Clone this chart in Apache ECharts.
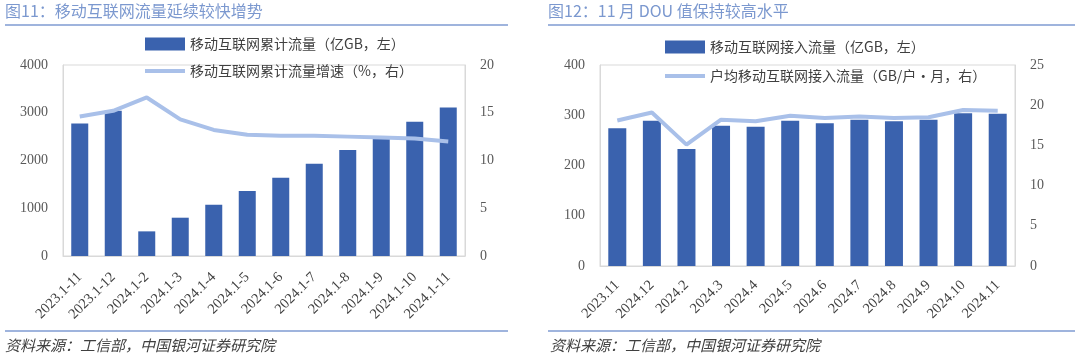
<!DOCTYPE html>
<html><head><meta charset="utf-8">
<script src="https://cdn.jsdelivr.net/npm/echarts@6/dist/echarts.min.js"></script>
<style>html,body{margin:0;padding:0;background:#fff}#c{width:1080px;height:362px}</style>
</head><body><div id="c"></div>
<script>
const leftTitle = '图11：移动互联网流量延续较快增势';
const rightTitle = '图12：11 月 DOU 值保持较高水平';
const sourceText = '资料来源：工信部，中国银河证券研究院';

const leftCategories = ['2023.1-11','2023.1-12','2024.1-2','2024.1-3','2024.1-4','2024.1-5','2024.1-6','2024.1-7','2024.1-8','2024.1-9','2024.1-10','2024.1-11'];
const leftTraffic = [2776, 3040, 516, 802, 1074, 1360, 1639, 1932, 2218, 2490, 2810, 3110];
const leftGrowth = [14.6, 15.2, 16.6, 14.3, 13.2, 12.7, 12.6, 12.6, 12.5, 12.4, 12.3, 12.0];
const leftBarName = '移动互联网累计流量（亿GB，左）';
const leftLineName = '移动互联网累计流量增速（%，右）';

const rightCategories = ['2023.11','2024.12','2024.2','2024.3','2024.4','2024.5','2024.6','2024.7','2024.8','2024.9','2024.10','2024.11'];
const rightTraffic = [274, 289, 233, 279, 277, 289, 284, 291, 288, 291, 304, 303];
const rightDou = [18.1, 19.1, 15.1, 18.2, 18.0, 18.7, 18.4, 18.6, 18.4, 18.5, 19.4, 19.3];
const rightBarName = '移动互联网接入流量（亿GB，左）';
const rightLineName = '户均移动互联网接入流量（GB/户·月，右）';

const barColor = '#3a62ae';
const lineColor = '#a9c0e9';
const titleColor = '#7b98cf';
const sepColor = '#7f9bd2';
const axisColor = '#d9d9d9';
const labelColor = '#595959';
const numFont = '"Liberation Serif", "Noto Sans CJK SC", serif';
const cjkFont = '"Noto Sans CJK SC", sans-serif';
const lineIcon = 'path://M0,0 H40 V4 H0 Z';

const chart = echarts.init(document.getElementById('c'));

function yAx(gridIndex, max, interval, position) {
  return {
    type: 'value', gridIndex, min: 0, max, interval, position,
    axisLine: {show: true, lineStyle: {color: axisColor}},
    axisTick: {show: false},
    splitLine: {show: false},
    axisLabel: {color: labelColor, fontFamily: numFont, fontSize: 14, margin: 15, formatter: v => String(v)}
  };
}
function xAx(gridIndex, data, margin) {
  return {
    type: 'category', gridIndex, data,
    axisLine: {lineStyle: {color: axisColor}},
    axisTick: {show: false},
    axisLabel: {color: '#404040', fontFamily: numFont, fontSize: 14.5, rotate: 45, margin, interval: 0}
  };
}

chart.setOption({
  animation: false,
  grid: [
    {left: 63, right: 615, top: 65, bottom: 106, show: true, borderColor: axisColor, borderWidth: 1},
    {left: 600, right: 65, top: 65, bottom: 96, show: true, borderColor: axisColor, borderWidth: 1}
  ],
  graphic: [
    {type: 'text', left: 5, top: 3, style: {text: leftTitle, fill: titleColor, font: '16px "Noto Sans CJK SC"'}},
    {type: 'text', left: 548, top: 3, style: {text: rightTitle, fill: titleColor, font: '16px "Noto Sans CJK SC"'}},
    {type: 'line', shape: {x1: 5, y1: 25, x2: 508, y2: 25}, style: {stroke: sepColor, lineWidth: 1.5}},
    {type: 'line', shape: {x1: 548, y1: 25, x2: 1075, y2: 25}, style: {stroke: sepColor, lineWidth: 1.5}},
    {type: 'line', shape: {x1: 5, y1: 331, x2: 508, y2: 331}, style: {stroke: sepColor, lineWidth: 1.5}},
    {type: 'line', shape: {x1: 548, y1: 331, x2: 1075, y2: 331}, style: {stroke: sepColor, lineWidth: 1.5}},
    {type: 'text', left: 5, top: 338, style: {text: sourceText, fill: '#404040', font: 'italic 15px "Noto Sans CJK SC"'}},
    {type: 'text', left: 550, top: 338, style: {text: sourceText, fill: '#404040', font: 'italic 15px "Noto Sans CJK SC"'}}
  ],
  legend: [
    {left: 140, top: 32, orient: 'vertical', itemGap: 13, itemWidth: 40, itemHeight: 13,
     textStyle: {fontFamily: cjkFont, fontSize: 14, color: '#404040'},
     data: [{name: leftBarName, icon: 'rect'}, {name: leftLineName, icon: lineIcon}]},
    {left: 660, top: 35, orient: 'vertical', itemGap: 15, itemWidth: 40, itemHeight: 13,
     textStyle: {fontFamily: cjkFont, fontSize: 14, color: '#404040'},
     data: [{name: rightBarName, icon: 'rect'}, {name: rightLineName, icon: lineIcon}]}
  ],
  xAxis: [xAx(0, leftCategories, 19), xAx(1, rightCategories, 17)],
  yAxis: [
    yAx(0, 4000, 1000, 'left'),
    yAx(0, 20, 5, 'right'),
    yAx(1, 400, 100, 'left'),
    yAx(1, 25, 5, 'right')
  ],
  series: [
    {name: leftBarName, type: 'bar', xAxisIndex: 0, yAxisIndex: 0, data: leftTraffic, barWidth: 17, itemStyle: {color: barColor}},
    {name: leftLineName, type: 'line', xAxisIndex: 0, yAxisIndex: 1, data: leftGrowth, symbol: 'none', lineStyle: {color: lineColor, width: 4}, itemStyle: {color: lineColor}},
    {name: rightBarName, type: 'bar', xAxisIndex: 1, yAxisIndex: 2, data: rightTraffic, barWidth: 18, itemStyle: {color: barColor}},
    {name: rightLineName, type: 'line', xAxisIndex: 1, yAxisIndex: 3, data: rightDou, symbol: 'none', lineStyle: {color: lineColor, width: 4}, itemStyle: {color: lineColor}}
  ]
});
</script></body></html>
